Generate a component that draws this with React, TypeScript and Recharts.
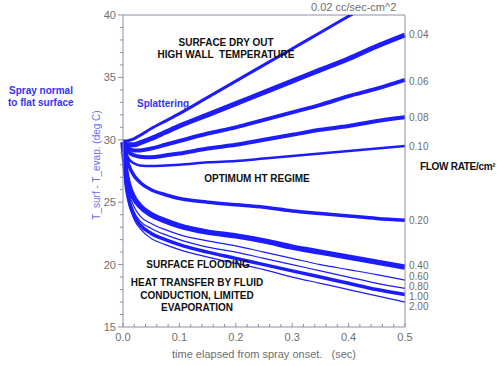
import * as React from 'react';
import { LineChart, Line, XAxis, YAxis, ReferenceLine } from 'recharts';

// time (sec) at which every curve is sampled
const TIME = [0, 0.005, 0.01, 0.02, 0.03, 0.05, 0.075, 0.1, 0.15, 0.2, 0.25, 0.3, 0.35, 0.4, 0.45, 0.5];

// T_surf - T_evap (deg C) for each flow rate (cc/sec-cm^2)
const R002 = [29.9, 29.9, 29.95, 30.1, 30.35, 30.9, 31.5, 32.1, 33.4, 34.7, 36.0, 37.3, 38.6, 39.9, 41.2, 42.5];
const R004 = [29.8, 29.65, 29.6, 29.6, 29.75, 30.1, 30.6, 31.1, 32.0, 32.9, 33.8, 34.7, 35.6, 36.5, 37.5, 38.4];
const R006 = [29.8, 29.45, 29.3, 29.15, 29.15, 29.3, 29.6, 29.9, 30.5, 31.0, 31.6, 32.2, 32.8, 33.5, 34.1, 34.8];
const R008 = [29.8, 29.25, 29.0, 28.75, 28.65, 28.6, 28.75, 28.9, 29.3, 29.6, 30.0, 30.4, 30.8, 31.1, 31.5, 31.8];
const R010 = [29.8, 29.0, 28.5, 28.1, 27.95, 27.9, 27.95, 28.0, 28.2, 28.3, 28.5, 28.7, 28.9, 29.1, 29.3, 29.5];
const R020 = [29.8, 28.8, 28.0, 27.1, 26.6, 26.0, 25.6, 25.3, 25.0, 24.8, 24.6, 24.3, 24.1, 23.9, 23.7, 23.55];
const R040 = [29.8, 27.5, 26.4, 25.3, 24.7, 24.0, 23.5, 23.1, 22.6, 22.3, 21.9, 21.4, 21.0, 20.6, 20.2, 19.8];
const R060 = [29.8, 27.0, 25.8, 24.6, 23.9, 23.3, 22.8, 22.4, 21.9, 21.5, 21.0, 20.5, 20.0, 19.6, 19.2, 18.75];
const R080 = [29.8, 26.8, 25.5, 24.2, 23.5, 22.9, 22.4, 22.0, 21.4, 21.0, 20.5, 20.0, 19.5, 19.0, 18.5, 18.1];
const R100 = [29.8, 26.6, 25.2, 23.9, 23.2, 22.5, 22.0, 21.6, 21.0, 20.5, 20.0, 19.5, 19.0, 18.5, 18.0, 17.6];
const R200 = [29.8, 26.4, 25.0, 23.6, 22.9, 22.1, 21.6, 21.2, 20.6, 20.1, 19.6, 19.0, 18.5, 18.0, 17.5, 17.0];

const SERIES = [
  { key: 'r002', values: R002, width: 3 },
  { key: 'r004', values: R004, width: 5 },
  { key: 'r006', values: R006, width: 4 },
  { key: 'r008', values: R008, width: 4 },
  { key: 'r010', values: R010, width: 2.5 },
  { key: 'r020', values: R020, width: 3.5 },
  { key: 'r040', values: R040, width: 5.5 },
  { key: 'r060', values: R060, width: 1.2 },
  { key: 'r080', values: R080, width: 1.2 },
  { key: 'r100', values: R100, width: 3.5 },
  { key: 'r200', values: R200, width: 1.2 },
];

// flow rate labels on the right edge, with the temperature they sit at
const RATE_LABELS = ['0.04', '0.06', '0.08', '0.10', '0.20', '0.40', '0.60', '0.80', '1.00', '2.00'];
const RATE_LABEL_AT = [38.4, 34.7, 31.8, 29.5, 23.5, 19.9, 19.08, 18.28, 17.48, 16.68];

const X_TICKS = [0, 0.02, 0.04, 0.06, 0.08, 0.1, 0.12, 0.14, 0.16, 0.18, 0.2, 0.22, 0.24, 0.26, 0.28, 0.3,
  0.32, 0.34, 0.36, 0.38, 0.4, 0.42, 0.44, 0.46, 0.48, 0.5];
const Y_TICKS = [15, 16, 17, 18, 19, 20, 21, 22, 23, 24, 25, 26, 27, 28, 29, 30, 31, 32, 33, 34, 35, 36, 37, 38, 39, 40];

const data = TIME.map((t, i) => {
  const row: any = { t };
  SERIES.forEach(s => { row[s.key] = s.values[i]; });
  return row;
});

const BLUE = '#1c1cff';
const AXIS = '#8e8eae';
const TICK_TEXT = '#6e6e6e';
const FONT = '"Liberation Sans", Arial, sans-serif';

function LeftTick(props: any) {
  const { x, y, payload } = props;
  const major = payload.value % 5 === 0;
  return <g>
    <line x1={x} x2={x - (major ? 5 : 3)} y1={y} y2={y} stroke={AXIS} />
    {major && <text x={x - 7} y={y} dy={4} textAnchor="end" fill={TICK_TEXT} fontSize={11} fontFamily={FONT}>{payload.value}</text>}
  </g>;
}

function BottomTick(props: any) {
  const { x, y, payload } = props;
  const v = payload.value;
  const major = Math.abs(v * 10 - Math.round(v * 10)) < 1e-6;
  return <g>
    <line x1={x} x2={x} y1={y} y2={y - (major ? 4 : 3)} stroke={AXIS} />
    {major && <text x={x} y={y} dy={14} textAnchor="middle" fill={TICK_TEXT} fontSize={11} fontFamily={FONT}>{v.toFixed(1)}</text>}
  </g>;
}

function RightTick(props: any) {
  const { x, y, payload } = props;
  const i = RATE_LABEL_AT.indexOf(payload.value);
  return <text x={x + 4} y={y} dy={3.5} textAnchor="start" fill={TICK_TEXT} fontSize={10} fontFamily={FONT}>{i >= 0 ? RATE_LABELS[i] : ''}</text>;
}

const bold: React.CSSProperties = { position: 'absolute', fontFamily: FONT, fontWeight: 'bold', fontSize: 10, color: '#111', whiteSpace: 'nowrap', transform: 'translate(-50%, -50%)' };
const blueText: React.CSSProperties = { ...bold, color: '#3434f0', transform: 'translate(0, -50%)' };

export default function App() {
  return <div style={{ position: 'absolute', left: 0, top: 0, width: 500, height: 366, background: '#fff', overflow: 'hidden' }}>
    <LineChart width={500} height={366} data={data} margin={{ top: 15, right: 0, bottom: 0, left: 0 }}>
      <XAxis dataKey="t" type="number" domain={[0, 0.5]} ticks={X_TICKS} interval={0} height={39}
        tickSize={0} tickMargin={0} tickLine={false} stroke={AXIS} tick={(p: any) => <BottomTick {...p} />} />
      <YAxis yAxisId="left" type="number" domain={[15, 40]} ticks={Y_TICKS} interval={0} width={123}
        allowDataOverflow={true} tickSize={0} tickMargin={0} tickLine={false} stroke={AXIS} tick={(p: any) => <LeftTick {...p} />} />
      <YAxis yAxisId="right" orientation="right" type="number" domain={[15, 40]} ticks={RATE_LABEL_AT} interval={0} width={95}
        allowDataOverflow={true} tickSize={0} tickMargin={0} tickLine={false} stroke={AXIS} tick={(p: any) => <RightTick {...p} />} />
      <ReferenceLine yAxisId="left" y={40} stroke={AXIS} />
      {SERIES.map(s => <Line key={s.key} yAxisId="left" type="monotone" dataKey={s.key} stroke={BLUE}
        strokeWidth={s.width} dot={false} isAnimationActive={false} />)}
      <Line yAxisId="right" type="monotone" dataKey="r020" stroke="none" dot={false} activeDot={false} isAnimationActive={false} />
    </LineChart>

    <div style={{ position: 'absolute', left: 311, top: 1, fontFamily: FONT, fontSize: 11, color: TICK_TEXT, whiteSpace: 'nowrap' }}>0.02 cc/sec-cm^2</div>
    <div style={{ position: 'absolute', left: 264, top: 354, transform: 'translate(-50%, -50%)', fontFamily: FONT, fontSize: 11, color: TICK_TEXT, whiteSpace: 'pre' }}>{'time elapsed from spray onset.   (sec)'}</div>
    <div style={{ position: 'absolute', left: 96, top: 165, transform: 'translate(-50%, -50%) rotate(-90deg)', fontFamily: FONT, fontSize: 10, color: '#6c6cee', whiteSpace: 'nowrap' }}>T_surf - T_evap. (deg C)</div>

    <div style={{ ...blueText, left: 9, top: 90 }}>Spray normal</div>
    <div style={{ ...blueText, left: 8, top: 102 }}>to flat surface</div>
    <div style={{ ...blueText, left: 137, top: 103 }}>Splattering</div>

    <div style={{ ...bold, left: 226, top: 42 }}>SURFACE DRY OUT</div>
    <div style={{ ...bold, left: 226, top: 54, whiteSpace: 'pre' }}>{'HIGH WALL  TEMPERATURE'}</div>
    <div style={{ ...bold, left: 257, top: 178 }}>OPTIMUM HT REGIME</div>
    <div style={{ ...bold, left: 198, top: 264 }}>SURFACE FLOODING</div>
    <div style={{ ...bold, left: 197, top: 282 }}>HEAT TRANSFER BY FLUID</div>
    <div style={{ ...bold, left: 197, top: 295 }}>CONDUCTION, LIMITED</div>
    <div style={{ ...bold, left: 197, top: 307 }}>EVAPORATION</div>
    <div style={{ ...bold, left: 420, top: 166, fontSize: 10, letterSpacing: -0.3, transform: 'translate(0, -50%)' }}>FLOW RATE/cm²</div>
  </div>;
}
